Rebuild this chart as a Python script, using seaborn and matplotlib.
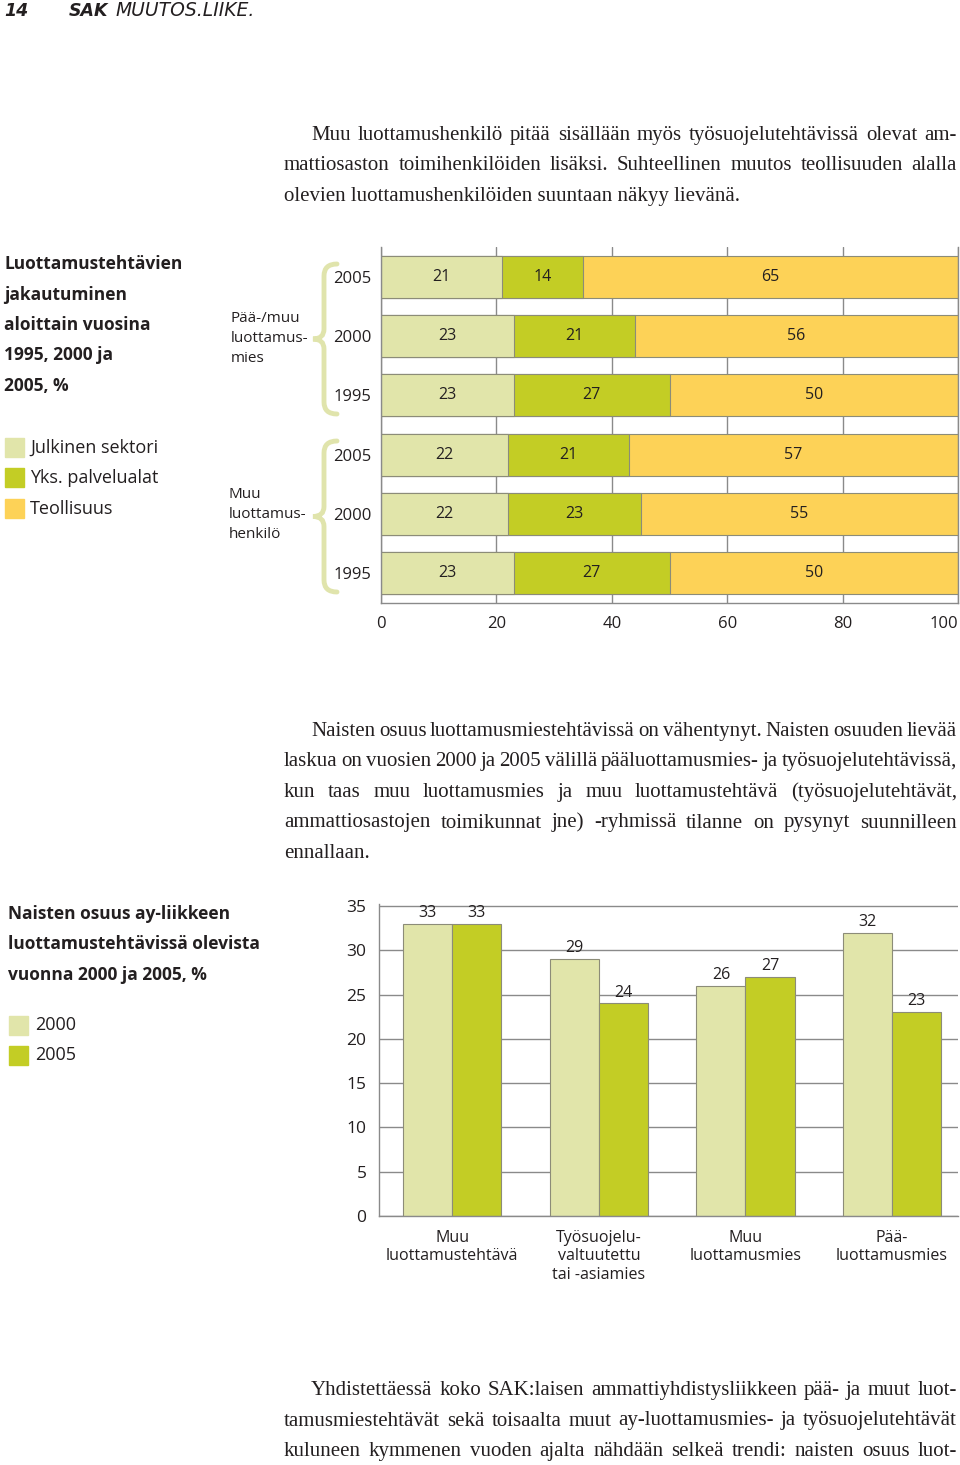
import matplotlib
matplotlib.use("Agg")
import matplotlib.pyplot as plt
import seaborn as sns
import pandas as pd
from matplotlib.patches import Rectangle, PathPatch
from matplotlib.path import Path

W, H = 960, 1465

# --- top chart: share of positions by sector (%) ---
row_keys = ["a2005", "a2000", "a1995", "b2005", "b2000", "b1995"]
row_years = ["2005", "2000", "1995", "2005", "2000", "1995"]
julkinen = [21, 23, 23, 22, 22, 23]
palvelu = [14, 21, 27, 21, 23, 27]
teollisuus = [65, 56, 50, 57, 55, 50]
sector_names = ["Julkinen sektori", "Yks. palvelualat", "Teollisuus"]
pct_ticks = [0, 20, 40, 60, 80, 100]

# --- bottom chart: share of women (%) ---
roles = ["Muu\nluottamustehtävä", "Työsuojelu-\nvaltuutettu\ntai -asiamies",
         "Muu\nluottamusmies", "Pää-\nluottamusmies"]
share_2000 = [33, 29, 26, 32]
share_2005 = [33, 24, 27, 23]
share_ticks = [0, 5, 10, 15, 20, 25, 30, 35]

LIGHT = "#e1e5aa"
GREEN = "#c3cd25"
YELLOW = "#fdd257"
EDGE = "#8c8c78"
GRID = "#8a8a8a"
TXT = "#231f20"
BRACE = "#e0e4ac"

sns.set_theme(style="white")
plt.rcParams["font.family"] = ["Open Sans", "DejaVu Sans"]

fig = plt.figure(figsize=(W / 100, H / 100), dpi=100)


def fx(x):
    return x / W


def fy(y):
    return 1 - y / H


def put(x, y, s, **kw):
    kw.setdefault("va", "center")
    kw.setdefault("color", TXT)
    return fig.text(fx(x), fy(y), s, **kw)


SERIF = dict(family=["Liberation Serif", "DejaVu Serif"], fontsize=15.0, va="baseline")


def justify(lines, x_first, x_left, x_right, y0, step, last_too=False):
    r = fig.canvas.get_renderer()
    for i, line in enumerate(lines):
        y = y0 + i * step + 6  # baseline below the line's middle
        x0 = x_first if i == 0 else x_left
        if i == len(lines) - 1 and not last_too:
            put(x0, y, line, **SERIF)
            continue
        words = line.split(" ")
        ts = [put(x0, y, w, **SERIF) for w in words]
        widths = [t.get_window_extent(r).width for t in ts]
        gap = (x_right - x0 - sum(widths)) / (len(words) - 1)
        x = x0
        for t, w in zip(ts, widths):
            t.set_x(fx(x))
            x += w + gap


def brace(y_top, y_bot, x_tip=313, x_mid=324, x_end=337):
    ym = (y_top + y_bot) / 2
    pts = [(x_end, y_top), (x_mid, y_top), (x_mid, y_top + 12),
           (x_mid, ym - 10), (x_mid, ym), (x_tip, ym),
           (x_mid, ym), (x_mid, ym + 10),
           (x_mid, y_bot - 12), (x_mid, y_bot), (x_end, y_bot)]
    codes = [Path.MOVETO, Path.CURVE3, Path.CURVE3, Path.LINETO,
             Path.CURVE3, Path.CURVE3, Path.CURVE3, Path.CURVE3,
             Path.LINETO, Path.CURVE3, Path.CURVE3]
    p = Path([(fx(a), fy(b)) for a, b in pts], codes)
    fig.add_artist(PathPatch(p, transform=fig.transFigure, fill=False,
                             edgecolor=BRACE, lw=3.5, capstyle="round"))


# header
put(4, 11, "14", fontsize=12.5, weight="bold", style="italic", family="DejaVu Sans")
put(69, 11, "SAK", fontsize=12.5, weight="heavy", style="italic", family="DejaVu Sans")
put(115, 11, "MUUTOS.LIIKE.", fontsize=13.5, style="italic", family="DejaVu Sans")

# text paragraphs
justify(["Muu luottamushenkilö pitää sisällään myös työsuojelutehtävissä olevat am-",
         "mattiosaston toimihenkilöiden lisäksi. Suhteellinen muutos teollisuuden alalla",
         "olevien luottamushenkilöiden suuntaan näkyy lievänä."],
        311, 284, 957, 134, 30.5)
justify(["Naisten osuus luottamusmiestehtävissä on vähentynyt. Naisten osuuden lievää",
         "laskua on vuosien 2000 ja 2005 välillä pääluottamusmies- ja työsuojelutehtävissä,",
         "kun taas muu luottamusmies ja muu luottamustehtävä (työsuojelutehtävät,",
         "ammattiosastojen toimikunnat jne) -ryhmissä tilanne on pysynyt suunnilleen",
         "ennallaan."],
        311, 284, 957, 730, 30.5)
justify(["Yhdistettäessä koko SAK:laisen ammattiyhdistysliikkeen pää- ja muut luot-",
         "tamusmiestehtävät sekä toisaalta muut ay-luottamusmies- ja työsuojelutehtävät",
         "kuluneen kymmenen vuoden ajalta nähdään selkeä trendi: naisten osuus luot-"],
        311, 284, 957, 1389, 30.5, last_too=True)

# ---------------- top chart ----------------
for i, s in enumerate(["Luottamustehtävien", "jakautuminen", "aloittain vuosina",
                       "1995, 2000 ja", "2005, %"]):
    put(4, 264 + i * 30.5, s, fontsize=12.5, weight="bold")
for i, (name, c) in enumerate(zip(sector_names, [LIGHT, GREEN, YELLOW])):
    y = 447.5 + i * 30.5
    fig.add_artist(Rectangle((fx(5), fy(y + 9.5)), 19 / W, 19 / H, color=c,
                             transform=fig.transFigure))
    put(30, y, name, fontsize=13)
for i, s in enumerate(["Pää-/muu", "luottamus-", "mies"]):
    put(231, 318 + i * 20, s, fontsize=11)
for i, s in enumerate(["Muu", "luottamus-", "henkilö"]):
    put(229, 495 + i * 20, s, fontsize=11)
brace(264, 414)
brace(441, 592)

df1 = pd.DataFrame({"row": row_keys, "j": julkinen, "p": palvelu, "t": teollisuus})
df1["jp"] = df1["j"] + df1["p"]
df1["jpt"] = df1["jp"] + df1["t"]

ax1 = fig.add_axes([fx(381), fy(603), (958 - 381) / W, (603 - 247) / H])
for col, c in [("jpt", YELLOW), ("jp", GREEN), ("j", LIGHT)]:
    sns.barplot(data=df1, x=col, y="row", order=row_keys, orient="h", color=c,
                saturation=1, width=0.71, edgecolor=EDGE, linewidth=0.8, ax=ax1)
for i in range(len(row_keys)):
    left = 0
    for v in [julkinen[i], palvelu[i], teollisuus[i]]:
        ax1.text(left + v / 2, i, str(v), ha="center", va="center",
                 fontsize=11.5, color=TXT)
        left += v
ax1.set_xlim(0, 100)
ax1.set_ylim(5.5, -0.5)
ax1.set_xticks(pct_ticks)
ax1.set_xticklabels([str(t) for t in pct_ticks], fontsize=12, color=TXT)
ax1.get_xticklabels()[-1].set_ha("right")
ax1.set_yticks(range(len(row_keys)))
ax1.set_yticklabels(row_years, fontsize=12, color=TXT)
for lab in ax1.get_yticklabels():
    lab.set_va("center_baseline")
ax1.tick_params(axis="x", length=0, pad=9)
ax1.tick_params(axis="y", length=0, pad=7)
ax1.grid(axis="x", color=GRID, lw=1)
ax1.grid(axis="y", visible=False)
ax1.set_axisbelow(True)
ax1.set_xlabel("")
ax1.set_ylabel("")
ax1.spines["top"].set_visible(False)
for s in ["left", "right", "bottom"]:
    ax1.spines[s].set_color(GRID)
    ax1.spines[s].set_linewidth(1)

# ---------------- bottom chart ----------------
for i, s in enumerate(["Naisten osuus ay-liikkeen", "luottamustehtävissä olevista",
                       "vuonna 2000 ja 2005, %"]):
    put(8, 914 + i * 30.5, s, fontsize=12.5, weight="bold")
for i, (name, c) in enumerate(zip(["2000", "2005"], [LIGHT, GREEN])):
    y = 1025.5 + i * 30
    fig.add_artist(Rectangle((fx(9), fy(y + 9.5)), 19 / W, 19 / H, color=c,
                             transform=fig.transFigure))
    put(35, y, name, fontsize=13)

df2 = pd.DataFrame({"role": roles * 2,
                    "year": ["2000"] * len(roles) + ["2005"] * len(roles),
                    "share": share_2000 + share_2005})

ax2 = fig.add_axes([fx(379), fy(1216), (958 - 379) / W, (1216 - 904.2) / H])
sns.barplot(data=df2, x="role", y="share", hue="year", order=roles,
            hue_order=["2000", "2005"], palette=[LIGHT, GREEN], saturation=1,
            width=0.67, gap=0, edgecolor=EDGE, linewidth=0.8, legend=False, ax=ax2)
for cont in ax2.containers:
    ax2.bar_label(cont, padding=2, fontsize=11.5, color=TXT)
ax2.set_ylim(0, 35.2)
ax2.set_xlim(-0.5, 3.45)
ax2.set_yticks(share_ticks)
ax2.set_yticklabels([str(t) for t in share_ticks], fontsize=12.5, color=TXT)
ax2.tick_params(axis="y", length=0, pad=9)
ax2.tick_params(axis="x", length=0, pad=10, labelsize=11.5, labelcolor=TXT)
ax2.grid(axis="y", color=GRID, lw=1)
ax2.grid(axis="x", visible=False)
ax2.set_axisbelow(True)
ax2.set_xlabel("")
ax2.set_ylabel("")
for s in ["top", "right"]:
    ax2.spines[s].set_visible(False)
for s in ["left", "bottom"]:
    ax2.spines[s].set_color(GRID)
    ax2.spines[s].set_linewidth(1)

fig.savefig("out.png", dpi=100, facecolor="white")
